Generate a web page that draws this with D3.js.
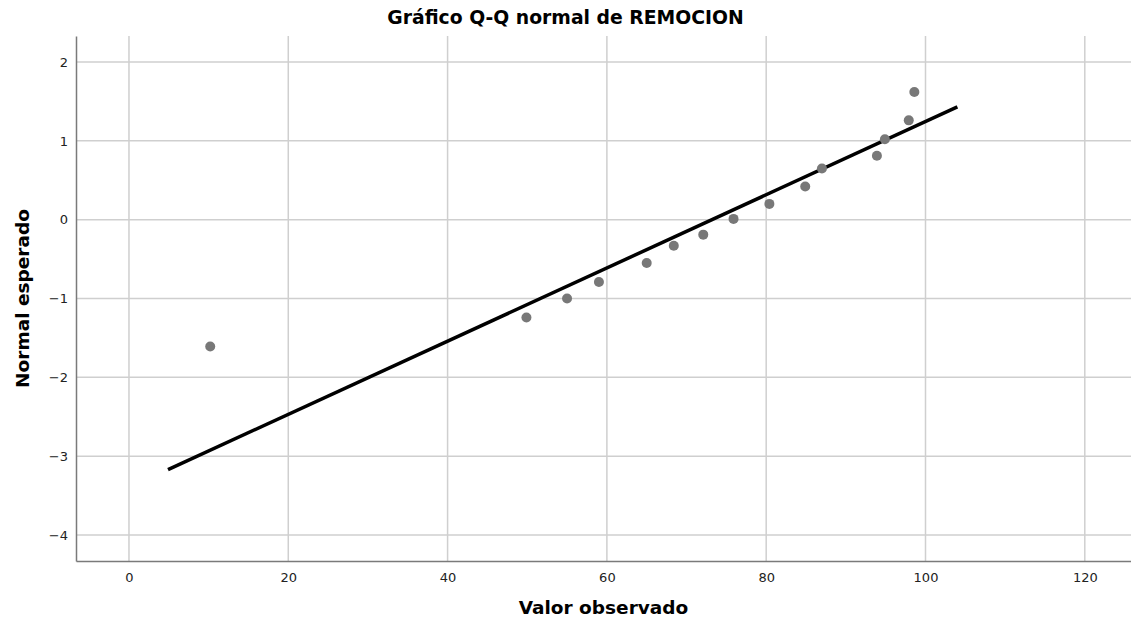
<!DOCTYPE html>
<html>
<head>
<meta charset="utf-8">
<script src="https://cdn.jsdelivr.net/npm/d3@7"></script>
<style>
  body { margin: 0; background: #fff; }
  svg { display: block; font-family: "DejaVu Sans", sans-serif; }
</style>
</head>
<body>
<svg id="chart" width="1131" height="625"></svg>
<script>
// observed values and expected normal quantiles
const observed = [10.2, 49.9, 55, 59, 65, 68.4, 72.1, 75.9, 80.4, 84.9, 87, 93.9, 94.9, 97.9, 98.6];
const expected = [-1.61, -1.24, -1.0, -0.79, -0.55, -0.33, -0.19, 0.01, 0.2, 0.42, 0.65, 0.81, 1.02, 1.26, 1.62];

// reference line endpoints
const lineX = [4.9, 104.0];
const lineY = [-3.17, 1.43];

const xTicks = [0, 20, 40, 60, 80, 100, 120];
const yTicks = [-4, -3, -2, -1, 0, 1, 2];

const svg = d3.select("#chart");
const W = 1131, H = 625;
const mLeft = 76, mRight = 1131, mTop = 36, mBottom = 561;

const x = d3.scaleLinear()
    .domain([-6.65, 125.8])
    .range([mLeft, mRight]);

const y = d3.scaleLinear()
    .domain([-4.33, 2.33])
    .range([mBottom, mTop]);

// grid
svg.append("g")
    .selectAll("line")
    .data(xTicks)
    .join("line")
    .attr("x1", d => x(d)).attr("x2", d => x(d))
    .attr("y1", mTop).attr("y2", mBottom)
    .attr("stroke", "#cfcfcf")
    .attr("stroke-width", 1.5);

svg.append("g")
    .selectAll("line")
    .data(yTicks)
    .join("line")
    .attr("x1", mLeft).attr("x2", mRight)
    .attr("y1", d => y(d)).attr("y2", d => y(d))
    .attr("stroke", "#cfcfcf")
    .attr("stroke-width", 1.5);

// axes
const fmt = d3.format("d");
const xAxis = d3.axisBottom(x).tickValues(xTicks).tickFormat(fmt).tickSize(0).tickPadding(12);
const yAxis = d3.axisLeft(y).tickValues(yTicks).tickFormat(fmt).tickSize(0).tickPadding(8);

const gx = svg.append("g")
    .attr("transform", "translate(0," + mBottom + ")")
    .call(xAxis);
const gy = svg.append("g")
    .attr("transform", "translate(" + mLeft + ",0)")
    .call(yAxis);

[gx, gy].forEach(g => {
    g.select(".domain").attr("stroke", "#7a7a7a").attr("stroke-width", 1.5);
    g.selectAll("text")
        .attr("fill", "#222")
        .style("font-size", "13px")
        .style("font-family", "DejaVu Sans, sans-serif");
});

// reference line
svg.append("line")
    .attr("x1", x(lineX[0])).attr("y1", y(lineY[0]))
    .attr("x2", x(lineX[1])).attr("y2", y(lineY[1]))
    .attr("stroke", "#000")
    .attr("stroke-width", 3.5);

// points
svg.append("g")
    .selectAll("circle")
    .data(observed)
    .join("circle")
    .attr("cx", d => x(d))
    .attr("cy", (d, i) => y(expected[i]))
    .attr("r", 5)
    .attr("fill", "#787878");

// titles
svg.append("text")
    .attr("x", W / 2)
    .attr("y", 24)
    .attr("text-anchor", "middle")
    .style("font-size", "18.8px")
    .style("font-weight", "bold")
    .text("Gráfico Q-Q normal de REMOCION");

svg.append("text")
    .attr("x", (mLeft + mRight) / 2)
    .attr("y", 614)
    .attr("text-anchor", "middle")
    .style("font-size", "18.5px")
    .style("font-weight", "bold")
    .text("Valor observado");

svg.append("text")
    .attr("transform", "translate(29," + ((mTop + mBottom) / 2) + ") rotate(-90)")
    .attr("text-anchor", "middle")
    .style("font-size", "18.5px")
    .style("font-weight", "bold")
    .text("Normal esperado");
</script>
</body>
</html>
